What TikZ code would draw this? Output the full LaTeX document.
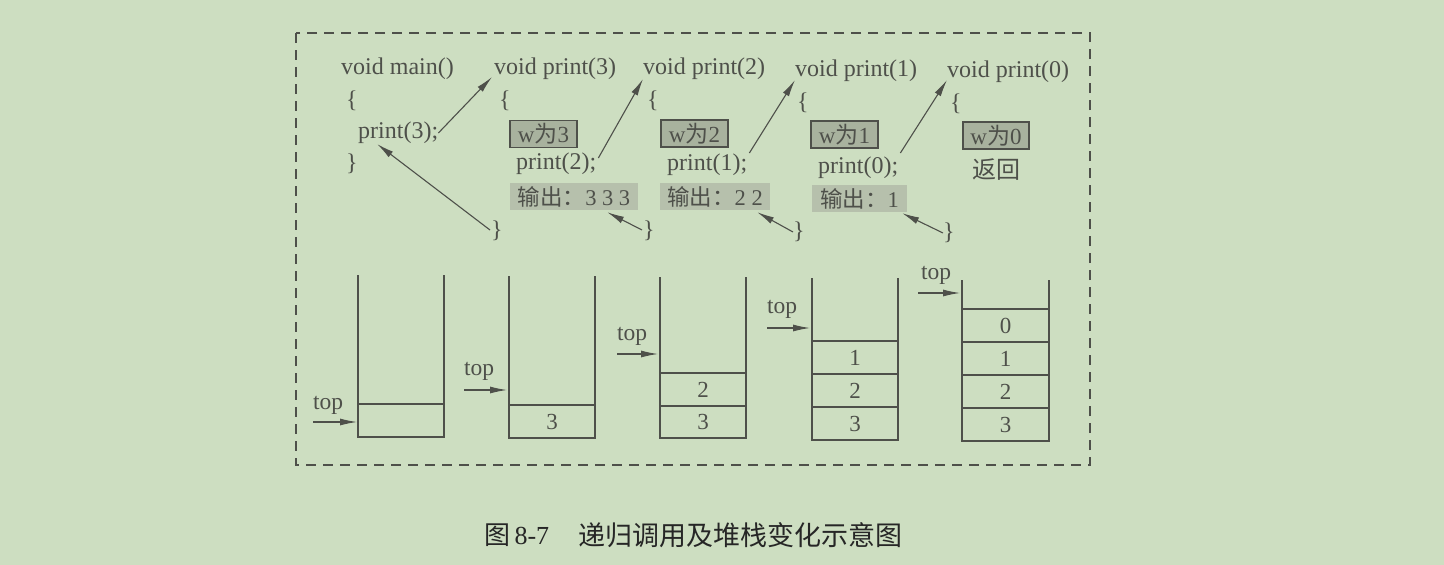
\documentclass[tikz,border=0pt]{standalone}
\usepackage{fontspec}
\setmainfont{Liberation Serif}
\newfontfamily\cjk{Noto Sans CJK SC}
\usetikzlibrary{arrows.meta,calc}
\definecolor{bg}{RGB}{205,222,193}
\definecolor{ink}{RGB}{78,80,74}
\definecolor{boxfill}{RGB}{168,178,158}
\definecolor{shade}{RGB}{182,192,172}
\tikzset{
  code/.style={anchor=west,inner sep=0pt,font=\fontsize{24}{28}\selectfont,text=ink},
  wbox/.style={draw=ink,line width=1.2pt,fill=boxfill,minimum width=67pt,minimum height=27pt,inner sep=0pt,font=\fontsize{23}{27}\selectfont,text=ink},
  outbox/.style={fill=shade,minimum height=27pt,inner sep=0pt,font=\fontsize{22.5}{27}\selectfont,text=ink},
  arr/.style={draw=ink,line width=1.1pt,-{Latex[length=17pt,width=7pt]}},
  cell/.style={draw=ink,line width=1.2pt,minimum width=86pt,minimum height=33pt,inner sep=0pt,font=\fontsize{23}{27}\selectfont,text=ink},
  wall/.style={draw=ink,line width=1.2pt},
  frame/.style={draw=ink,line width=1.2pt,dash pattern=on 10pt off 7pt},
  toplbl/.style={anchor=west,inner sep=0pt,font=\fontsize{23.5}{27}\selectfont,text=ink}
}
\begin{document}
\begin{tikzpicture}[x=1pt,y=-1pt]
\fill[bg] (0,0) rectangle (1444,565);
\useasboundingbox (0,0) rectangle (1444,565);
\draw[frame] (296,33) rectangle (1090,465);

% main
\node[code] (m0) at (341,69) {void main()};
\node[code] (m1) at (346,101) {\{};
\node[code] (m2) at (358,133) {print(3);};
\node[code] (m3) at (346,164) {\}};
% print(3)
\node[code] (a0) at (494,69) {void print(3)};
\node[code] (a1) at (499,101) {\{};
\node[wbox] (aw) at (543.5,134) {w{\cjk 为}3};
\node[code] (a2) at (516,164) {print(2);};
\node[outbox,minimum width=128pt] (ao) at (574,196.5) {{\cjk 输出：}3 3 3};
\node[code] (a3) at (491,231) {\}};
% print(2)
\node[code] (b0) at (643,69) {void print(2)};
\node[code] (b1) at (647,101) {\{};
\node[wbox] (bw) at (694.5,133.5) {w{\cjk 为}2};
\node[code] (b2) at (667,165) {print(1);};
\node[outbox,minimum width=110pt] (bo) at (715,196.5) {{\cjk 输出：}2 2};
\node[code] (b3) at (643,231) {\}};
% print(1)
\node[code] (c0) at (795,71) {void print(1)};
\node[code] (c1) at (797,103) {\{};
\node[wbox] (cw) at (844.5,134.5) {w{\cjk 为}1};
\node[code] (c2) at (818,168) {print(0);};
\node[outbox,minimum width=95pt] (co) at (859.5,198.5) {{\cjk 输出：}1};
\node[code] (c3) at (793,232) {\}};
% print(0)
\node[code] (d0) at (947,72) {void print(0)};
\node[code] (d1) at (950,104) {\{};
\node[wbox,minimum width=66pt] (dw) at (996,135.5) {w{\cjk 为}0};
\node[code] (d2) at (972,170) {\cjk 返回};
\node[code] (d3) at (943,233) {\}};

% call arrows
\draw[arr] ($(m2.east)+(0,0)$) -- ($(a0.west)+(-2,8)$);
\draw[arr] ($(a2.east)+(2,-6)$) -- ($(b0.west)+(0,10)$);
\draw[arr] ($(b2.east)+(2,-12)$) -- ($(c0.west)+(0,9)$);
\draw[arr] ($(c2.east)+(2,-15)$) -- ($(d0.west)+(0,8)$);
% return arrows
\draw[arr] ($(a3.west)+(-1,-1)$) -- ($(m2.south)+(-21,0)$);
\draw[arr] ($(b3.west)+(-1,-1)$) -- ($(ao.south east)+(-31,2)$);
\draw[arr] ($(c3.west)+(0,0)$) -- ($(bo.south east)+(-13,2)$);
\draw[arr] ($(d3.west)+(0,0)$) -- ($(co.south east)+(-5,1)$);

% stack 1
\draw[wall] (358,275) -- (358,437) -- (444,437) -- (444,275);
\node[cell] (s1a) at (401,420.5) {};
\node[toplbl] (t1) at (313,405) {top};
\coordinate (t1s) at (313,422);
\coordinate (t1e) at (357,422);
\draw[arr] (t1s) -- (t1e);
% stack 2
\draw[wall] (509,276) -- (509,438) -- (595,438) -- (595,276);
\node[cell] (s2a) at (552,421.5) {3};
\node[toplbl] (t2) at (464,371) {top};
\coordinate (t2s) at (464,390);
\coordinate (t2e) at (507,390);
\draw[arr] (t2s) -- (t2e);
% stack 3
\draw[wall] (660,277) -- (660,438) -- (746,438) -- (746,277);
\node[cell,minimum height=32pt] (s3a) at (703,422) {3};
\node[cell] (s3b) at (703,389.5) {2};
\node[toplbl] (t3) at (617,336) {top};
\coordinate (t3s) at (617,354);
\coordinate (t3e) at (658,354);
\draw[arr] (t3s) -- (t3e);
% stack 4
\draw[wall] (812,278) -- (812,440) -- (898,440) -- (898,278);
\node[cell] (s4a) at (855,423.5) {3};
\node[cell] (s4b) at (855,390.5) {2};
\node[cell] (s4c) at (855,357.5) {1};
\node[toplbl] (t4) at (767,309) {top};
\coordinate (t4s) at (767,328);
\coordinate (t4e) at (810,328);
\draw[arr] (t4s) -- (t4e);
% stack 5
\draw[wall] (962,280) -- (962,441) -- (1049,441) -- (1049,280);
\node[cell,minimum width=87pt] (s5a) at (1005.5,424.5) {3};
\node[cell,minimum width=87pt] (s5b) at (1005.5,391.5) {2};
\node[cell,minimum width=87pt] (s5c) at (1005.5,358.5) {1};
\node[cell,minimum width=87pt] (s5d) at (1005.5,325.5) {0};
\node[toplbl] (t5) at (921,275) {top};
\coordinate (t5s) at (918,293);
\coordinate (t5e) at (960,293);
\draw[arr] (t5s) -- (t5e);

% caption
\node[anchor=west,inner sep=0pt,font=\fontsize{26}{30}\selectfont,text=black!85] (cap1) at (484,535) {{\cjk 图}\,8-7};
\node[anchor=west,inner sep=0pt,font=\fontsize{27}{30}\selectfont\cjk,text=black!85] (cap2) at (578,535) {递归调用及堆栈变化示意图};
\end{tikzpicture}
\end{document}
